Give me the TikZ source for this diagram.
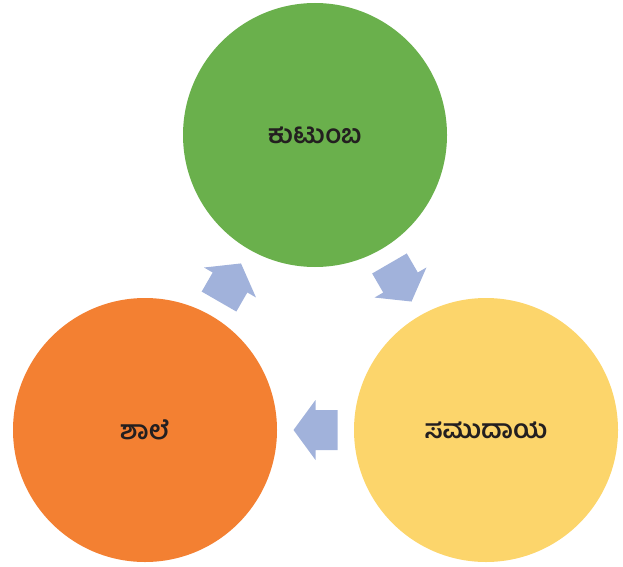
\documentclass[tikz,border=0pt]{standalone}
\usepackage{fontspec}
\newfontfamily\kannada[Script=Kannada]{Hind Mysuru}
\definecolor{kgreen}{RGB}{106,176,76}
\definecolor{korange}{RGB}{243,128,50}
\definecolor{kyellow}{RGB}{252,213,107}
\definecolor{karrow}{RGB}{161,178,219}
\definecolor{ktext}{RGB}{35,31,32}

\tikzset{
    circ/.style={circle, minimum size=264pt, inner sep=0pt,
        font=\kannada\bfseries\fontsize{26}{30}\selectfont, text=ktext},
    blockarr/.pic={
        \fill[karrow] (-22,-20) -- (0,-20) -- (0,-30) -- (22,0)
            -- (0,30) -- (0,20) -- (-22,20) -- cycle;
    }
}

\begin{document}
\begin{tikzpicture}[x=1pt, y=1pt]

    \useasboundingbox (0,0) rectangle (623,566);

    \node[circ, fill=kgreen] (kutumba) at (315,431) {ಕುಟುಂಬ};
    \node[circ, fill=korange] (shale) at (145,136) {ಶಾಲೆ};
    \node[circ, fill=kyellow] (samudaya) at (486,136) {ಸಮುದಾಯ};

    % arrows between the circles
    \path (shale) -- pic[pos=0.5, sloped, allow upside down] {blockarr} (kutumba);
    \path (kutumba) -- pic[pos=0.5, sloped, allow upside down] {blockarr} (samudaya);
    \path (samudaya) -- pic[pos=0.5, sloped, allow upside down] {blockarr} (shale);

\end{tikzpicture}
\end{document}
